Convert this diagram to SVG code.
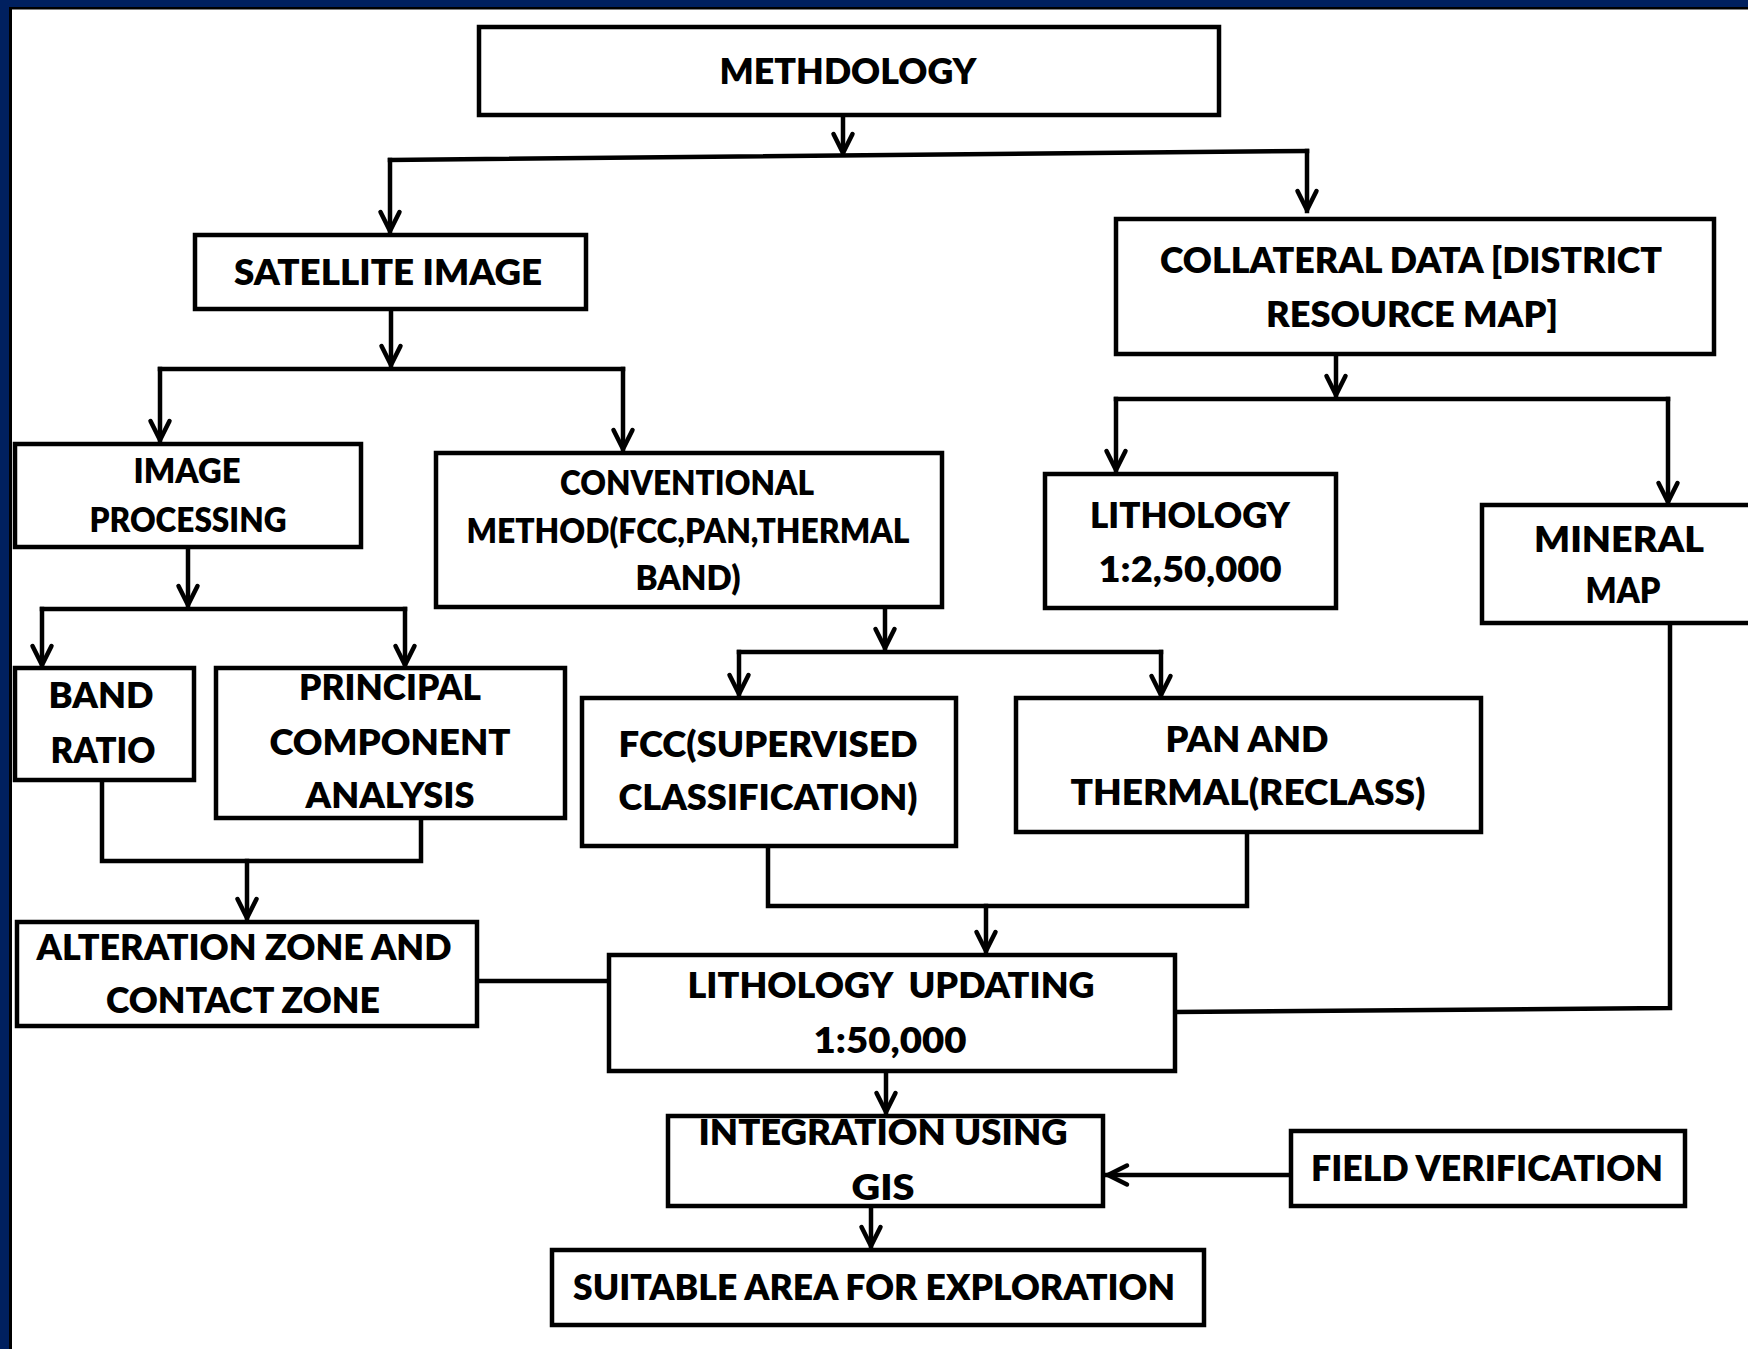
<svg xmlns="http://www.w3.org/2000/svg" width="1748" height="1349" viewBox="0 0 1748 1349">
<style>
.box{fill:#fff;stroke:#000;stroke-width:4.5}
.t{font-family:Lato,"Liberation Sans",sans-serif;font-weight:800;font-size:36px;fill:#000;text-anchor:middle}
.s{font-size:33px}
.c{fill:none;stroke:#000;stroke-width:4.5;stroke-linecap:square;stroke-linejoin:miter}
</style>
<defs>
<marker id="arr" markerUnits="userSpaceOnUse" viewBox="-26 -14 30 28" markerWidth="30" markerHeight="28" refX="0" refY="0" orient="auto" overflow="visible">
<path d="M-20,-9.5 L-1,0 L-20,9.5" fill="none" stroke="#000" stroke-width="4.5" stroke-linejoin="round" stroke-linecap="round"/>
</marker>
</defs>
<rect x="0" y="0" width="1748" height="1349" fill="#fff"/>
<rect x="0" y="0" width="1748" height="7" fill="#00205f"/>
<rect x="0" y="0" width="9" height="1349" fill="#00205f"/>
<rect x="9" y="7" width="1739" height="2.5" fill="#000"/>
<rect x="9" y="7" width="3" height="1342" fill="#000"/>

<g id="connectors">
<path class="c" d="M390,160 L1307,151"/>
<path class="c" d="M843,117 V154" marker-end="url(#arr)"/>
<path class="c" d="M390,160 V232" marker-end="url(#arr)"/>
<path class="c" d="M1307,151 V211" marker-end="url(#arr)"/>
<path class="c" d="M160,369 H623"/>
<path class="c" d="M391,311 V366" marker-end="url(#arr)"/>
<path class="c" d="M160,369 V441" marker-end="url(#arr)"/>
<path class="c" d="M623,369 V450" marker-end="url(#arr)"/>
<path class="c" d="M1116,399 H1668"/>
<path class="c" d="M1336,356 V396" marker-end="url(#arr)"/>
<path class="c" d="M1116,399 V471" marker-end="url(#arr)"/>
<path class="c" d="M1668,399 V503" marker-end="url(#arr)"/>
<path class="c" d="M42,609 H405"/>
<path class="c" d="M188,549 V606" marker-end="url(#arr)"/>
<path class="c" d="M42,609 V666" marker-end="url(#arr)"/>
<path class="c" d="M405,609 V666" marker-end="url(#arr)"/>
<path class="c" d="M739,652 H1161"/>
<path class="c" d="M885,609 V649" marker-end="url(#arr)"/>
<path class="c" d="M739,652 V695" marker-end="url(#arr)"/>
<path class="c" d="M1161,652 V696" marker-end="url(#arr)"/>
<path class="c" d="M102,782 V861 H421 V820"/>
<path class="c" d="M247,861 V919" marker-end="url(#arr)"/>
<path class="c" d="M768,848 V906 H1247 V834"/>
<path class="c" d="M986,906 V952" marker-end="url(#arr)"/>
<path class="c" d="M479,981 H607"/>
<path class="c" d="M1670,625 V1008 L1177,1012"/>
<path class="c" d="M886,1073 V1113" marker-end="url(#arr)"/>
<path class="c" d="M1289,1175 H1107" marker-end="url(#arr)"/>
<path class="c" d="M871,1208 V1247" marker-end="url(#arr)"/>
</g>

<g id="methodology">
<rect class="box" x="479" y="27" width="740" height="88"/>
<text class="t" x="848" y="84" textLength="257" lengthAdjust="spacingAndGlyphs">METHDOLOGY</text>
</g>
<g id="satellite-image">
<rect class="box" x="195" y="235" width="391" height="74"/>
<text class="t" x="388" y="285" textLength="308" lengthAdjust="spacingAndGlyphs">SATELLITE IMAGE</text>
</g>
<g id="collateral-data">
<rect class="box" x="1116" y="219" width="598" height="135"/>
<text class="t" x="1411" y="273" textLength="502" lengthAdjust="spacingAndGlyphs">COLLATERAL DATA [DISTRICT</text>
<text class="t" x="1412" y="327" textLength="292" lengthAdjust="spacingAndGlyphs">RESOURCE MAP]</text>
</g>
<g id="image-processing">
<rect class="box" x="15" y="444" width="346" height="103"/>
<text class="t s" x="187" y="483" textLength="107" lengthAdjust="spacingAndGlyphs">IMAGE</text>
<text class="t s" x="188" y="532" textLength="197" lengthAdjust="spacingAndGlyphs">PROCESSING</text>
</g>
<g id="conventional-method">
<rect class="box" x="436" y="453" width="506" height="154"/>
<text class="t s" x="687" y="495" textLength="254" lengthAdjust="spacingAndGlyphs">CONVENTIONAL</text>
<text class="t s" x="688" y="543" textLength="443" lengthAdjust="spacingAndGlyphs">METHOD(FCC,PAN,THERMAL</text>
<text class="t s" x="688" y="590" textLength="105" lengthAdjust="spacingAndGlyphs">BAND)</text>
</g>
<g id="lithology-250000">
<rect class="box" x="1045" y="474" width="291" height="134"/>
<text class="t" x="1190" y="528" textLength="200" lengthAdjust="spacingAndGlyphs">LITHOLOGY</text>
<text class="t" x="1190" y="582" textLength="183" lengthAdjust="spacingAndGlyphs">1:2,50,000</text>
</g>
<g id="mineral-map">
<rect class="box" x="1482" y="505" width="300" height="118"/>
<text class="t" x="1619" y="552" textLength="170" lengthAdjust="spacingAndGlyphs">MINERAL</text>
<text class="t" x="1623" y="603" textLength="75" lengthAdjust="spacingAndGlyphs">MAP</text>
</g>
<g id="band-ratio">
<rect class="box" x="15" y="668" width="179" height="112"/>
<text class="t" x="101" y="708" textLength="105" lengthAdjust="spacingAndGlyphs">BAND</text>
<text class="t" x="103" y="763" textLength="105" lengthAdjust="spacingAndGlyphs">RATIO</text>
</g>
<g id="principal-component-analysis">
<rect class="box" x="216" y="668" width="349" height="150"/>
<text class="t" x="390" y="700" textLength="182" lengthAdjust="spacingAndGlyphs">PRINCIPAL</text>
<text class="t" x="390" y="755" textLength="241" lengthAdjust="spacingAndGlyphs">COMPONENT</text>
<text class="t" x="390" y="808" textLength="169" lengthAdjust="spacingAndGlyphs">ANALYSIS</text>
</g>
<g id="fcc-supervised">
<rect class="box" x="582" y="698" width="374" height="148"/>
<text class="t" x="768" y="757" textLength="299" lengthAdjust="spacingAndGlyphs">FCC(SUPERVISED</text>
<text class="t" x="768" y="810" textLength="299" lengthAdjust="spacingAndGlyphs">CLASSIFICATION)</text>
</g>
<g id="pan-thermal">
<rect class="box" x="1016" y="698" width="465" height="134"/>
<text class="t" x="1247" y="752" textLength="163" lengthAdjust="spacingAndGlyphs">PAN AND</text>
<text class="t" x="1248" y="805" textLength="355" lengthAdjust="spacingAndGlyphs">THERMAL(RECLASS)</text>
</g>
<g id="alteration-zone">
<rect class="box" x="17" y="922" width="460" height="104"/>
<text class="t" x="244" y="960" textLength="415" lengthAdjust="spacingAndGlyphs">ALTERATION ZONE AND</text>
<text class="t" x="243" y="1013" textLength="274" lengthAdjust="spacingAndGlyphs">CONTACT ZONE</text>
</g>
<g id="lithology-updating">
<rect class="box" x="609" y="955" width="566" height="116"/>
<text class="t" x="891" y="998" textLength="407" lengthAdjust="spacingAndGlyphs" style="white-space:pre">LITHOLOGY  UPDATING</text>
<text class="t" x="890" y="1053" textLength="153" lengthAdjust="spacingAndGlyphs">1:50,000</text>
</g>
<g id="integration-gis">
<rect class="box" x="668" y="1116" width="435" height="90"/>
<text class="t" x="883" y="1145" textLength="369" lengthAdjust="spacingAndGlyphs">INTEGRATION USING</text>
<text class="t" x="883" y="1200" textLength="63" lengthAdjust="spacingAndGlyphs">GIS</text>
</g>
<g id="field-verification">
<rect class="box" x="1291" y="1131" width="394" height="75"/>
<text class="t" x="1487" y="1181" textLength="352" lengthAdjust="spacingAndGlyphs">FIELD VERIFICATION</text>
</g>
<g id="suitable-area">
<rect class="box" x="552" y="1250" width="652" height="75"/>
<text class="t" x="874" y="1300" textLength="602" lengthAdjust="spacingAndGlyphs">SUITABLE AREA FOR EXPLORATION</text>
</g>
</svg>
